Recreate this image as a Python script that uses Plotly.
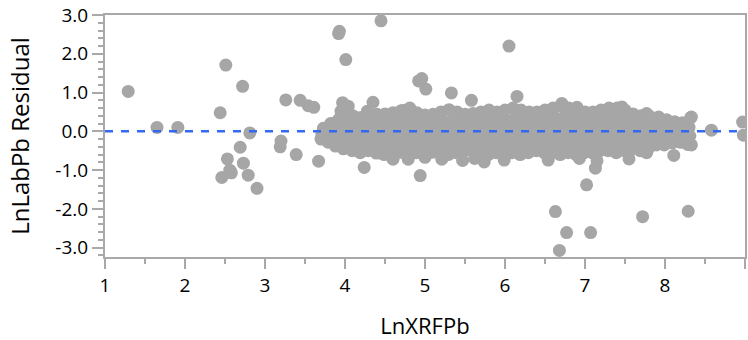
import plotly.graph_objects as go

# ---- data ----
x_ticks = [1, 2, 3, 4, 5, 6, 7, 8, 9]
x_tick_labels = ["1", "2", "3", "4", "5", "6", "7", "8", "9"]
y_ticks = [-3, -2, -1, 0, 1, 2, 3]
y_tick_labels = ["-3.0", "-2.0", "-1.0", "0.0", "1.0", "2.0", "3.0"]

# sparse points at low LnXRFPb and scattered outliers
outlier_points = [
    (1.29, 1.03), (1.65, 0.10), (1.91, 0.10),
    (2.44, 0.48), (2.51, 1.71), (2.72, 1.16),
    (2.46, -1.19), (2.53, -0.71), (2.56, -1.00), (2.58, -1.07),
    (2.69, -0.41), (2.73, -0.82), (2.79, -1.13), (2.81, -0.04), (2.90, -1.47),
    (3.20, -0.25), (3.19, -0.40), (3.26, 0.81), (3.39, -0.60),
    (3.44, 0.80), (3.54, 0.66), (3.61, 0.62), (3.67, -0.77),
    (3.92, 2.52), (3.93, 2.58), (4.01, 1.85), (4.45, 2.85),
    (3.95, 0.52), (3.97, 0.74), (4.04, 0.65), (4.06, 0.37), (3.85, 0.20),
    (4.28, 0.52), (4.35, 0.75), (4.24, -0.93), (4.45, -0.56),
    (4.48, -0.58), (4.60, -0.72), (4.79, -0.72), (4.94, -1.14),
    (5.00, -0.67), (5.03, -0.57), (4.73, 0.54), (4.81, 0.60),
    (4.92, 1.30), (4.96, 1.36), (5.01, 1.09),
    (5.33, 0.99), (5.58, 0.80), (5.21, -0.72), (5.47, -0.75), (5.62, -0.70),
    (5.74, -0.79), (5.99, -0.74),
    (6.05, 2.20), (6.15, 0.90),
    (6.54, -0.74), (6.93, -0.70), (7.15, -0.76), (7.13, -0.95), (7.02, -1.38),
    (6.63, -2.07), (7.72, -2.20), (8.29, -2.06), (6.77, -2.61), (7.07, -2.61),
    (6.68, -3.07),
    (7.55, -0.71), (7.77, -0.55), (8.11, -0.62), (8.23, -0.28), (8.33, -0.35),
    (8.33, 0.37), (8.58, 0.03), (8.97, 0.24), (8.98, -0.10), (8.15, 0.21),
    (6.71, 0.72), (6.90, 0.62), (7.46, 0.63), (7.77, 0.46), (7.92, 0.37),
]

# dense cloud of points between LnXRFPb ~3.7 and ~8.3
cloud_points = [
    (3.71, -0.07), (3.73, 0.08), (3.70, -0.20),
    (3.79, -0.28), (3.81, -0.10), (3.80, 0.06), (3.82, 0.20),
    (3.88, -0.38), (3.90, -0.20), (3.91, 0.00), (3.89, 0.17), (3.92, 0.30),
    (3.98, -0.45), (4.00, -0.27), (4.01, -0.08), (3.99, 0.10), (4.02, 0.27), (4.00, 0.38),
    (4.09, -0.50), (4.10, -0.32), (4.11, -0.12), (4.08, 0.06), (4.12, 0.22), (4.10, 0.40),
    (4.19, -0.55), (4.21, -0.36), (4.20, -0.16), (4.18, 0.02), (4.22, 0.20), (4.20, 0.36),
    (4.29, -0.50), (4.31, -0.30), (4.30, -0.10), (4.28, 0.10), (4.32, 0.28), (4.30, 0.42),
    (4.39, -0.56), (4.41, -0.36), (4.40, -0.16), (4.38, 0.04), (4.42, 0.24), (4.40, 0.44),
    (4.49, -0.60), (4.51, -0.40), (4.50, -0.20), (4.48, 0.00), (4.52, 0.20), (4.50, 0.45),
    (4.59, -0.55), (4.61, -0.35), (4.60, -0.15), (4.58, 0.06), (4.62, 0.26), (4.60, 0.48),
    (4.69, -0.54), (4.71, -0.34), (4.70, -0.12), (4.68, 0.10), (4.72, 0.32), (4.70, 0.53),
    (4.79, -0.60), (4.81, -0.40), (4.80, -0.18), (4.78, 0.04), (4.82, 0.26), (4.80, 0.57),
    (4.89, -0.55), (4.91, -0.33), (4.90, -0.12), (4.88, 0.10), (4.92, 0.30), (4.90, 0.48),
    (4.99, -0.50), (5.01, -0.30), (5.00, -0.08), (4.98, 0.12), (5.02, 0.30), (5.00, 0.42),
    (5.09, -0.54), (5.11, -0.34), (5.10, -0.14), (5.08, 0.06), (5.12, 0.26), (5.10, 0.44),
    (5.19, -0.55), (5.21, -0.35), (5.20, -0.15), (5.18, 0.05), (5.22, 0.28), (5.20, 0.50),
    (5.29, -0.60), (5.31, -0.40), (5.30, -0.20), (5.28, 0.02), (5.32, 0.24), (5.30, 0.56),
    (5.39, -0.55), (5.41, -0.35), (5.40, -0.14), (5.38, 0.08), (5.42, 0.30), (5.40, 0.50),
    (5.49, -0.50), (5.51, -0.30), (5.50, -0.10), (5.48, 0.10), (5.52, 0.28), (5.50, 0.44),
    (5.59, -0.50), (5.61, -0.30), (5.60, -0.10), (5.58, 0.10), (5.62, 0.30), (5.60, 0.46),
    (5.69, -0.55), (5.71, -0.35), (5.70, -0.14), (5.68, 0.06), (5.72, 0.28), (5.70, 0.50),
    (5.79, -0.60), (5.81, -0.40), (5.80, -0.18), (5.78, 0.04), (5.82, 0.26), (5.80, 0.55),
    (5.89, -0.55), (5.91, -0.33), (5.90, -0.12), (5.88, 0.10), (5.92, 0.30), (5.90, 0.50),
    (5.99, -0.60), (6.01, -0.40), (6.00, -0.18), (5.98, 0.04), (6.02, 0.28), (6.00, 0.55),
    (6.09, -0.55), (6.11, -0.35), (6.10, -0.13), (6.08, 0.08), (6.12, 0.32), (6.10, 0.60),
    (6.19, -0.60), (6.21, -0.38), (6.20, -0.16), (6.18, 0.06), (6.22, 0.30), (6.20, 0.55),
    (6.29, -0.55), (6.31, -0.34), (6.30, -0.12), (6.28, 0.10), (6.32, 0.30), (6.30, 0.50),
    (6.39, -0.50), (6.41, -0.30), (6.40, -0.10), (6.38, 0.10), (6.42, 0.30), (6.40, 0.50),
    (6.49, -0.55), (6.51, -0.35), (6.50, -0.14), (6.48, 0.08), (6.52, 0.30), (6.50, 0.55),
    (6.59, -0.55), (6.61, -0.33), (6.60, -0.10), (6.58, 0.12), (6.62, 0.36), (6.60, 0.60),
    (6.69, -0.60), (6.71, -0.38), (6.70, -0.15), (6.68, 0.08), (6.72, 0.34), (6.70, 0.65),
    (6.79, -0.55), (6.81, -0.34), (6.80, -0.12), (6.78, 0.10), (6.82, 0.34), (6.80, 0.60),
    (6.89, -0.60), (6.91, -0.38), (6.90, -0.15), (6.88, 0.08), (6.92, 0.30), (6.90, 0.55),
    (6.99, -0.55), (7.01, -0.33), (7.00, -0.12), (6.98, 0.10), (7.02, 0.30), (7.00, 0.50),
    (7.09, -0.55), (7.11, -0.34), (7.10, -0.13), (7.08, 0.08), (7.12, 0.30), (7.10, 0.50),
    (7.19, -0.50), (7.21, -0.30), (7.20, -0.10), (7.18, 0.12), (7.22, 0.34), (7.20, 0.55),
    (7.29, -0.50), (7.31, -0.30), (7.30, -0.08), (7.28, 0.14), (7.32, 0.38), (7.30, 0.60),
    (7.39, -0.55), (7.41, -0.33), (7.40, -0.10), (7.38, 0.12), (7.42, 0.36), (7.40, 0.60),
    (7.49, -0.50), (7.51, -0.30), (7.50, -0.08), (7.48, 0.14), (7.52, 0.35), (7.50, 0.55),
    (7.59, -0.45), (7.61, -0.25), (7.60, -0.05), (7.58, 0.15), (7.62, 0.32), (7.60, 0.45),
    (7.69, -0.50), (7.71, -0.28), (7.70, -0.06), (7.68, 0.14), (7.72, 0.30), (7.70, 0.40),
    (7.79, -0.45), (7.81, -0.25), (7.80, -0.05), (7.78, 0.14), (7.82, 0.30), (7.80, 0.40),
    (7.89, -0.35), (7.91, -0.16), (7.90, 0.02), (7.88, 0.18), (7.92, 0.35),
    (7.99, -0.35), (8.01, -0.16), (8.00, 0.02), (7.98, 0.16), (8.02, 0.30),
    (8.09, -0.30), (8.11, -0.12), (8.10, 0.04), (8.08, 0.20), (8.12, 0.25),
    (8.19, -0.28), (8.21, -0.10), (8.20, 0.06), (8.22, 0.22),
    (8.29, -0.34), (8.31, -0.12), (8.30, 0.10), (8.32, 0.35),
]

reference_y = 0.0

all_points = outlier_points + cloud_points
x_vals = [p[0] for p in all_points]
y_vals = [p[1] for p in all_points]

FONT = "Open Sans, Noto Sans, DejaVu Sans, sans-serif"
AXIS_COLOR = "#a9a9a9"

fig = go.Figure()
fig.add_trace(go.Scatter(
    x=x_vals, y=y_vals, mode="markers",
    marker=dict(color="#a6a6a6", size=13, line=dict(width=0)),
    showlegend=False, hoverinfo="x+y",
))
fig.add_hline(y=reference_y, line=dict(color="#3369f0", width=2.5, dash="8px,8px"))

fig.update_layout(
    width=748, height=340,
    margin=dict(l=105, r=3, t=15, b=83, autoexpand=False),
    paper_bgcolor="white", plot_bgcolor="white",
    font=dict(family=FONT, size=19, color="black"),
    showlegend=False,
)
fig.update_xaxes(
    range=[1, 9], tickmode="array", tickvals=x_ticks, ticktext=x_tick_labels,
    showgrid=False, zeroline=False,
    showline=True, linecolor=AXIS_COLOR, linewidth=2, mirror=True,
    ticks="outside", ticklen=10, tickwidth=2, tickcolor=AXIS_COLOR,
    tickfont=dict(size=19, family=FONT, color="black"),
    minor=dict(tickmode="linear", tick0=1, dtick=0.5, ticks="outside",
               ticklen=5, tickwidth=2, tickcolor=AXIS_COLOR, showgrid=False),
    title=dict(text="LnXRFPb", font=dict(size=22, family=FONT, color="black"), standoff=26),
    automargin=False,
)
fig.update_yaxes(
    range=[-3.24, 3.0], tickmode="array", tickvals=y_ticks, ticktext=y_tick_labels,
    showgrid=False, zeroline=False,
    showline=True, linecolor=AXIS_COLOR, linewidth=2, mirror=True,
    ticks="outside", ticklen=11, tickwidth=2, tickcolor=AXIS_COLOR,
    tickfont=dict(size=19, family=FONT, color="black"),
    minor=dict(tickmode="linear", tick0=0, dtick=0.2, ticks="outside",
               ticklen=5, tickwidth=2, tickcolor=AXIS_COLOR, showgrid=False),
    title=dict(text="LnLabPb Residual", font=dict(size=24, family=FONT, color="black"), standoff=19),
    automargin=False,
)

fig.write_html("out.html")
